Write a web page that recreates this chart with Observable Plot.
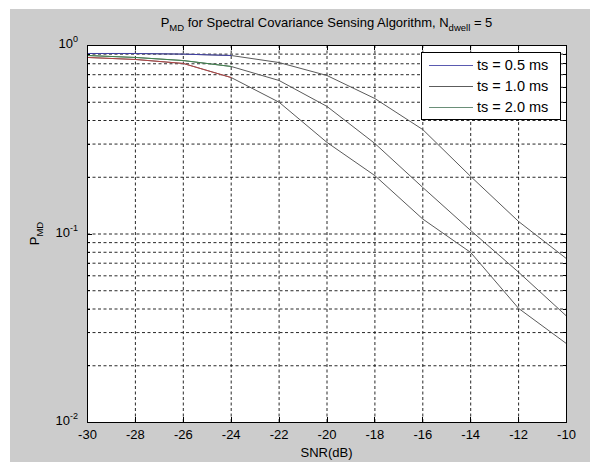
<!DOCTYPE html>
<html><head><meta charset="utf-8">
<script src="https://cdn.jsdelivr.net/npm/d3@7"></script>
<script src="https://cdn.jsdelivr.net/npm/@observablehq/plot@0.6"></script>
<style>
body{margin:0;background:#fff;}
#chart{width:599px;height:465px;background:linear-gradient(#cccccc,#cccccc) 10px 9px / 580px 453px no-repeat, #ffffff;}
#chart svg{display:block;background:transparent !important;}
</style></head><body><div id="chart"></div>
<script>
const snr = [-30,-28,-26,-24,-22,-20,-18,-16,-14,-12,-10];
const pmd05 = [0.907,0.907,0.900,0.885,0.812,0.693,0.523,0.358,0.202,0.1165,0.074];
const pmd10 = [0.885,0.864,0.832,0.774,0.652,0.475,0.302,0.1765,0.1044,0.0627,0.0367];
const pmd20 = [0.864,0.843,0.803,0.676,0.500,0.306,0.204,0.120,0.0798,0.0403,0.0262];
const seriesNames = ["ts = 0.5 ms","ts = 1.0 ms","ts = 2.0 ms"];
const xTicks = [-30,-28,-26,-24,-22,-20,-18,-16,-14,-12,-10];
const xTickLabels = ["-30","-28","-26","-24","-22","-20","-18","-16","-14","-12","-10"];
const yTicks = [1,0.1,0.01];
const yExponents = ["0","-1","-2"];
const titleMain = ["P","MD"," for Spectral Covariance Sensing Algorithm, N","dwell"," = 5"];
const xLabel = "SNR(dB)";
const yLabel = ["P","MD"];

const series = [pmd05, pmd10, pmd20];
const curveColors = ["#3b3bb0","#3c8c4c","#c04040"];
const legendColors = ["#5a5ab0","#5c5c5c","#6a8f78"];
const data = series.flatMap((vals, s) => vals.map((v, i) => ({snr: snr[i], pmd: v, s: seriesNames[s]})));
const colorUntil = -23;

const W = 599, H = 465;
const font = "'Liberation Sans', Arial, sans-serif";

const plot = Plot.plot({
  width: W, height: H,
  marginLeft: 87, marginRight: 33, marginTop: 45, marginBottom: 43,
  style: {fontFamily: font, fontSize: "13px", color: "#000", background: "transparent", overflow: "visible"},
  x: {domain: [-30, -10], ticks: xTicks, label: null},
  y: {type: "log", domain: [0.01, 1], label: null},
  marks: [
    Plot.frame({fill: "white", stroke: null}),
    Plot.gridY({stroke: "#111", strokeOpacity: 0.9, strokeDasharray: "3,2.5", strokeWidth: 1}),
    Plot.gridX(xTicks, {stroke: "#111", strokeOpacity: 0.9, strokeDasharray: "3,2.5", strokeWidth: 1}),
    Plot.lineY(data, {x: "snr", y: "pmd", z: "s", stroke: "#5a5a5a", strokeWidth: 1}),
    ...series.map((vals, s) => Plot.lineY(data.filter(d => d.s === seriesNames[s] && d.snr <= colorUntil), {x: "snr", y: "pmd", stroke: curveColors[s], strokeWidth: 1, strokeOpacity: 0.85})),
    Plot.axisX({ticks: xTicks, tickSize: 0, tickPadding: 7, fontSize: 13, tickFormat: d => xTickLabels[xTicks.indexOf(d)]}),
    Plot.axisY({ticks: [], tickSize: 0}),
    Plot.frame({stroke: "black", strokeWidth: 1})
  ]
});

const svg = d3.select(plot);
const xs = plot.scale("x"), ys = plot.scale("y");
const x0 = xs.apply(-30), x1 = xs.apply(-10), yTop = ys.apply(1), yBot = ys.apply(0.01);

// inward ticks (major x, minor y) on all four sides
const tg = svg.append("g").attr("stroke", "black").attr("stroke-width", 1);
xTicks.forEach(t => {
  const x = Math.round(xs.apply(t)) + 0.5;
  tg.append("line").attr("x1", x).attr("x2", x).attr("y1", yBot).attr("y2", yBot - 5);
  tg.append("line").attr("x1", x).attr("x2", x).attr("y1", yTop).attr("y2", yTop + 5);
});
const yMinor = d3.scaleLog().domain([0.01, 1]).ticks();
yMinor.forEach(t => {
  const y = Math.round(ys.apply(t)) + 0.5;
  const len = yTicks.includes(t) ? 5 : 3;
  tg.append("line").attr("x1", x0).attr("x2", x0 + len).attr("y1", y).attr("y2", y);
  tg.append("line").attr("x1", x1).attr("x2", x1 - len).attr("y1", y).attr("y2", y);
});

// y tick labels with superscripts
yTicks.forEach((t, i) => {
  const tx = svg.append("text").attr("x", x0 - 9).attr("y", ys.apply(t) + 3)
    .attr("text-anchor", "end").attr("font-family", font).attr("font-size", 13).attr("fill", "black");
  tx.append("tspan").text("10");
  tx.append("tspan").attr("dy", -6).attr("font-size", 9).text(yExponents[i]);
});

// title
const tt = svg.append("text").attr("x", (x0 + x1) / 2).attr("y", 27).attr("text-anchor", "middle")
  .attr("font-family", font).attr("font-size", 13).attr("fill", "black");
tt.append("tspan").text(titleMain[0]);
tt.append("tspan").attr("dy", 4).attr("font-size", 9.5).text(titleMain[1]);
tt.append("tspan").attr("dy", -4).text(titleMain[2]);
tt.append("tspan").attr("dy", 4).attr("font-size", 9.5).text(titleMain[3]);
tt.append("tspan").attr("dy", -4).text(titleMain[4]);

// x label
svg.append("text").attr("x", (x0 + x1) / 2).attr("y", 457).attr("text-anchor", "middle")
  .attr("font-family", font).attr("font-size", 13).attr("fill", "black").text(xLabel);

// y label
const yl = svg.append("text").attr("transform", `translate(39,${(yTop + yBot) / 2}) rotate(-90)`)
  .attr("text-anchor", "middle").attr("font-family", font).attr("font-size", 13).attr("fill", "black");
yl.append("tspan").text(yLabel[0]);
yl.append("tspan").attr("dy", 4).attr("font-size", 9.5).text(yLabel[1]);

// legend
const lg = svg.append("g");
const lx = 421, ly = 52, lw = 139, lh = 67;
lg.append("rect").attr("x", lx + 0.5).attr("y", ly + 0.5).attr("width", lw).attr("height", lh)
  .attr("fill", "white").attr("stroke", "black").attr("stroke-width", 1);
seriesNames.forEach((name, i) => {
  const cy = ly + 13 + i * 21;
  lg.append("line").attr("x1", lx + 8).attr("x2", lx + 52).attr("y1", cy + 0.5).attr("y2", cy + 0.5)
    .attr("stroke", legendColors[i]).attr("stroke-width", 1.2);
  lg.append("text").attr("x", lx + 56).attr("y", cy + 5).attr("text-anchor", "start")
    .attr("font-family", font).attr("font-size", 14.5).attr("fill", "black").text(name);
});

document.getElementById("chart").appendChild(plot);
</script></body></html>
